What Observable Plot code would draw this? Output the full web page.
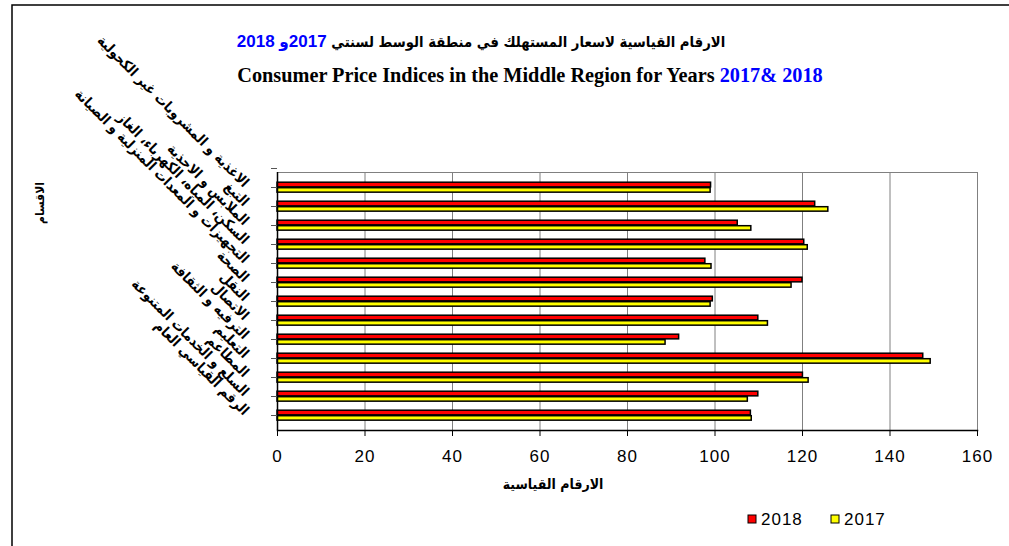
<!DOCTYPE html>
<html><head><meta charset="utf-8">
<script src="https://cdn.jsdelivr.net/npm/d3@7"></script>
<script src="https://cdn.jsdelivr.net/npm/@observablehq/plot@0.6"></script>
<style>
html,body{margin:0;padding:0;background:#fff;}
#chart{position:relative;width:1009px;height:546px;overflow:hidden;}
.xt text{letter-spacing:1px;}
</style></head><body><div id="chart"></div>
<script>
const categories = [
  "الاغذية و المشروبات غير الكحولية",
  "التبغ",
  "الملابس و الاحذية",
  "السكن، المياه، الكهرباء، الغاز",
  "التجهيزات و المعدات المنزلية و الصيانة",
  "الصحة",
  "النقل",
  "الاتصال",
  "الترفيه و الثقافة",
  "التعليم",
  "المطاعم",
  "السلع و الخدمات المتنوعة",
  "الرقم القياسي العام"
];
const values2018 = [99.1, 122.9, 105.2, 120.4, 97.8, 120.0, 99.5, 109.9, 91.8, 147.6, 120.1, 109.9, 108.2];
const values2017 = [99.0, 125.9, 108.3, 121.2, 99.2, 117.5, 99.0, 112.1, 88.7, 149.3, 121.4, 107.5, 108.4];
const xTicks = [0, 20, 40, 60, 80, 100, 120, 140, 160];
const seriesNames = ["2018", "2017"];
const seriesColors = ["#FF0000", "#FFFF00"];
const titleAr = "الارقام القياسية لاسعار المستهلك في منطقة الوسط لسنتي ";
const titleArYears = "2017و 2018";
const titleEn = "Consumer Price Indices in the Middle Region for Years ";
const titleEnYears = "2017& 2018";
const xLabel = "الارقام القياسية";
const yLabel = "الاقسام";

const rows = categories.map((c, i) => ({cat: c, v2018: values2018[i], v2017: values2017[i]}));

const W = 1009, H = 546;
const mL = 277, mR = 32, mT = 172, mB = 116;
const band = (H - mT - mB) / categories.length;
const sans = "'Liberation Sans', Arial, 'DejaVu Sans Condensed', 'DejaVu Sans', sans-serif";
const arab = "'DejaVu Sans Condensed', 'DejaVu Sans', sans-serif";

const plot = Plot.plot({
  width: W, height: H,
  marginLeft: mL, marginRight: mR, marginTop: mT, marginBottom: mB,
  style: {fontFamily: sans, background: "transparent", color: "#000"},
  x: {domain: [0, 160], ticks: xTicks},
  y: {type: "band", domain: categories, padding: 0, axis: null},
  marks: [
    Plot.gridX(xTicks.filter(t => t > 0), {stroke: "#808080", strokeOpacity: 1, strokeWidth: 1}),
    Plot.frame({stroke: "#808080", strokeWidth: 1}),
    Plot.barX(rows, {y: "cat", x: "v2018", fill: seriesColors[0], stroke: "#000", strokeWidth: 1.5,
      insetTop: 4.2, insetBottom: band - 9.7}),
    Plot.barX(rows, {y: "cat", x: "v2017", fill: seriesColors[1], stroke: "#000", strokeWidth: 1.5,
      insetTop: 9.7, insetBottom: band - 15.0}),
    Plot.ruleX([0], {stroke: "#000", strokeWidth: 1.5}),
    Plot.frame({anchor: "bottom", stroke: "#000", strokeWidth: 1.5}),
    Plot.axisX({ticks: xTicks, tickSize: 6, tickPadding: 13, fontSize: 17, label: null, className: "xt"}),
    Plot.text(categories, {y: d => d, frameAnchor: "left", dx: -31, dy: -3, rotate: 45, textAnchor: "end",
      fontSize: 14, fontWeight: "bold", fontFamily: arab})
  ]
});
document.getElementById("chart").appendChild(plot);

const svg = d3.select(plot);
const ys = plot.scale("y");

// category tick marks between bands
const bounds = categories.map(c => ys.apply(c) - ys.bandwidth / 2);
bounds.push(ys.apply(categories[categories.length - 1]) + ys.bandwidth / 2);
svg.append("g").selectAll("line").data(bounds).join("line")
  .attr("x1", mL - 6).attr("x2", mL).attr("y1", d => d).attr("y2", d => d)
  .attr("stroke", "#555").attr("stroke-width", 1);

// outer frame
svg.append("rect").attr("x", 12).attr("y", 5).attr("width", 1200).attr("height", 800)
  .attr("fill", "none").attr("stroke", "#000").attr("stroke-width", 1.5);

function fit(sel, target) {
  const w = sel.node().getComputedTextLength();
  const fs = parseFloat(sel.attr("font-size"));
  sel.attr("font-size", fs * target / w);
}

// titles
const t1 = svg.append("text").attr("x", 481).attr("y", 47).attr("text-anchor", "middle")
  .attr("direction", "rtl").attr("font-weight", "bold");
const t1a = t1.append("tspan").attr("font-family", arab).attr("font-size", 14).text(titleAr);
t1.append("tspan").attr("fill", "#0000FF").attr("font-family", sans).attr("font-size", 17).text(titleArYears);
{
  const total = t1.node().getComputedTextLength();
  const arW = t1a.node().getComputedTextLength();
  const target = 489 - (total - arW);
  t1a.attr("font-size", 14 * target / arW);
}

const t2 = svg.append("text").attr("x", 530).attr("y", 82).attr("text-anchor", "middle")
  .attr("font-family", "'Liberation Serif', 'Times New Roman', serif").attr("font-weight", "bold").attr("font-size", 17);
t2.append("tspan").text(titleEn);
t2.append("tspan").attr("fill", "#0000FF").text(titleEnYears);
fit(t2, 586);

// axis titles
svg.append("text").attr("x", 553).attr("y", 489).attr("text-anchor", "middle")
  .attr("font-family", arab).attr("font-weight", "bold").attr("font-size", 14).text(xLabel);
svg.append("text").attr("transform", "translate(44,203) rotate(-90)").attr("text-anchor", "middle")
  .attr("font-family", arab).attr("font-weight", "bold").attr("font-size", 12).text(yLabel);

// legend
const leg = [{x: 748, name: seriesNames[0], color: seriesColors[0]}, {x: 831, name: seriesNames[1], color: seriesColors[1]}];
const lg = svg.append("g");
leg.forEach(l => {
  lg.append("rect").attr("x", l.x).attr("y", 515).attr("width", 8).attr("height", 8)
    .attr("fill", l.color).attr("stroke", "#000").attr("stroke-width", 1);
  lg.append("text").attr("x", l.x + 13).attr("y", 525).attr("text-anchor", "start").attr("font-family", sans)
    .attr("font-size", 17).attr("letter-spacing", "1px").text(l.name);
});
</script></body></html>
